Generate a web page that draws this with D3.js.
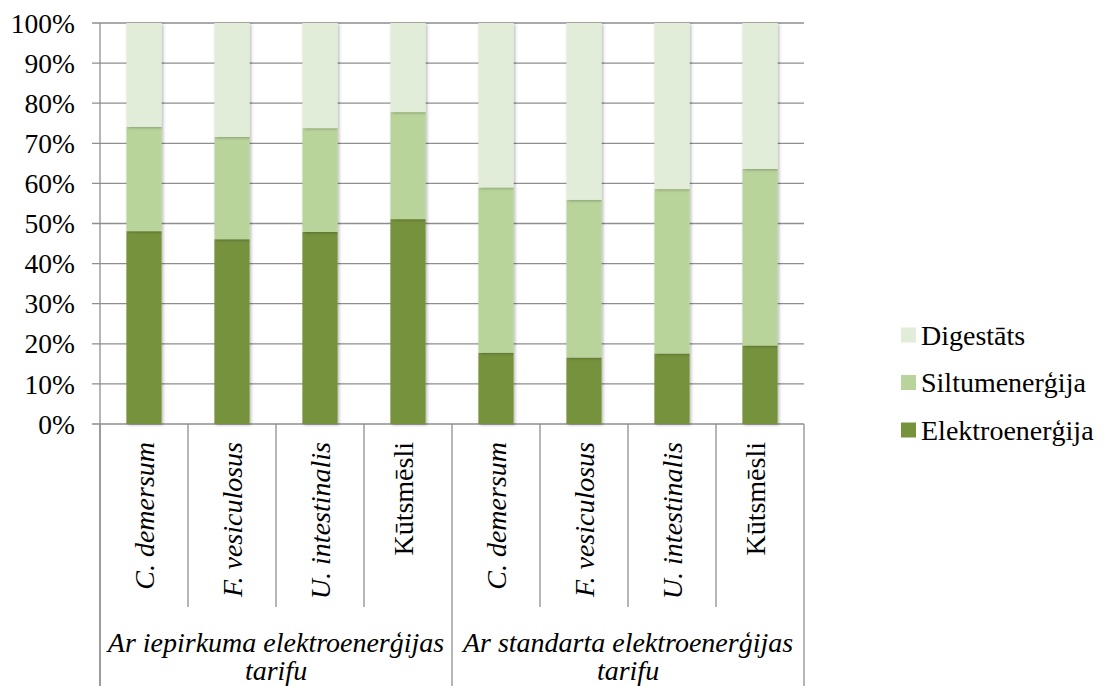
<!DOCTYPE html>
<html>
<head>
<meta charset="utf-8">
<script src="https://cdn.jsdelivr.net/npm/d3@7"></script>
<style>
  html, body { margin: 0; padding: 0; background: #ffffff; }
  svg { display: block; }
  svg text { font-family: "Liberation Serif", "DejaVu Serif", "Noto Serif", "Times New Roman", Times, FreeSerif, "Nimbus Roman", "Nimbus Roman No9 L", Tinos, serif; }
</style>
</head>
<body>
<svg id="chart" width="1104" height="686"></svg>
<script>
// Feedstock categories, with tariff groups underneath
const categories = ["C. demersum", "F. vesiculosus", "U. intestinalis", "Kūtsmēsli",
                    "C. demersum", "F. vesiculosus", "U. intestinalis", "Kūtsmēsli"];
const italicLabel = [true, true, true, false, true, true, true, false];
const groups = ["Ar iepirkuma elektroenerģijas tarifu", "Ar standarta elektroenerģijas tarifu"];
const groupLines = [["Ar iepirkuma elektroenerģijas", "tarifu"], ["Ar standarta elektroenerģijas", "tarifu"]];
const groupSize = 4;

// Share of revenue (%) per product
const seriesNames = ["Elektroenerģija", "Siltumenerģija", "Digestāts"];
const elektroenergija = [48.1, 46.1, 47.9, 51.1, 17.8, 16.6, 17.6, 19.6];
const siltumenergija  = [26.0, 25.5, 25.9, 26.7, 41.2, 39.3, 41.0, 44.0];
const digestats       = [25.9, 28.4, 26.2, 22.2, 41.0, 44.1, 41.4, 36.4];
const yTicks = [0, 10, 20, 30, 40, 50, 60, 70, 80, 90, 100];

const colors = ["#76923c", "#b8d49a", "#e1edd8"];

const svg = d3.select("#chart");
const plotLeft = 100, plotRight = 804, plotTop = 23, plotBottom = 424, chartBottom = 686;

const rows = categories.map((c, i) => ({
  i,
  "Elektroenerģija": elektroenergija[i],
  "Siltumenerģija": siltumenergija[i],
  "Digestāts": digestats[i]
}));

const x = d3.scaleBand().domain(d3.range(categories.length)).range([plotLeft, plotRight])
  .paddingInner(0.6).paddingOuter(0.3);
const xCat = d3.scaleBand().domain(d3.range(categories.length)).range([plotLeft, plotRight]).padding(0);
const y = d3.scaleLinear().domain([0, 100]).range([plotBottom, plotTop]);

// soft shadow under the bars
const defs = svg.append("defs");
const f = defs.append("filter").attr("id", "shadow").attr("x", "-20%").attr("y", "-5%")
  .attr("width", "150%").attr("height", "115%");
f.append("feDropShadow").attr("dx", 1.5).attr("dy", 1).attr("stdDeviation", 1.6)
  .attr("flood-color", "#000").attr("flood-opacity", 0.28);

const gridColor = "#8e8e8e";

// horizontal gridlines and tick marks
svg.append("g").selectAll("line").data(yTicks).join("line")
  .attr("x1", plotLeft - 8).attr("x2", plotRight)
  .attr("y1", d => y(d)).attr("y2", d => y(d))
  .attr("stroke", gridColor).attr("stroke-width", 1.3);

// y axis line
svg.append("line").attr("x1", plotLeft).attr("x2", plotLeft).attr("y1", plotTop).attr("y2", chartBottom)
  .attr("stroke", gridColor).attr("stroke-width", 1.3);

// y tick labels
svg.append("g").selectAll("text").data(yTicks).join("text")
  .attr("x", 75).attr("y", d => y(d)).attr("dy", "0.35em")
  .attr("text-anchor", "end").attr("font-size", 27.5)
  .text(d => d + "%");

// stacked bars
const stack = d3.stack().keys(seriesNames);
const layers = stack(rows);
svg.append("g").selectAll("g").data(layers).join("g")
  .attr("fill", (d, k) => colors[k])
  .selectAll("rect").data(d => d).join("rect")
  .attr("x", d => x(d.data.i))
  .attr("width", x.bandwidth())
  .attr("y", d => y(d[1]))
  .attr("height", d => y(d[0]) - y(d[1]))
  .attr("filter", "url(#shadow)");

// category separators below the axis
const sepX = d3.range(categories.length + 1).map(i => i < categories.length ? xCat(i) : plotRight);
svg.append("g").selectAll("line").data(sepX).join("line")
  .attr("x1", d => d).attr("x2", d => d)
  .attr("y1", plotBottom)
  .attr("y2", (d, i) => (i % groupSize === 0) ? chartBottom : 607)
  .attr("stroke", gridColor).attr("stroke-width", 1.3);

// rotated category labels
svg.append("g").selectAll("text").data(categories).join("text")
  .attr("transform", (d, i) => `translate(${xCat(i) + xCat.bandwidth() / 2 + (italicLabel[i] ? 0 : -5)},442) rotate(-90)`)
  .attr("text-anchor", "end").attr("dy", "0.35em")
  .attr("font-size", 28)
  .attr("font-style", (d, i) => italicLabel[i] ? "italic" : "normal")
  .text(d => d);

// group labels
const gLabels = svg.append("g").selectAll("g").data(groups).join("g")
  .attr("transform", (d, g) => {
    const x0 = xCat(g * groupSize);
    const x1 = (g + 1) * groupSize < categories.length ? xCat((g + 1) * groupSize) : plotRight;
    return `translate(${(x0 + x1) / 2},0)`;
  });
gLabels.selectAll("text").data((d, g) => groupLines[g]).join("text")
  .attr("x", 0).attr("y", (d, j) => 652 + j * 28)
  .attr("text-anchor", "middle").attr("font-size", 28).attr("font-style", "italic")
  .text(d => d);

// legend
const legendOrder = seriesNames.map((s, k) => ({ s, k })).reverse();
const lg = svg.append("g").selectAll("g").data(legendOrder).join("g")
  .attr("transform", (d, j) => `translate(901,${335 + j * 47.5})`);
lg.append("rect").attr("x", 0).attr("y", -7.5).attr("width", 15).attr("height", 15)
  .attr("fill", d => colors[d.k]);
lg.append("text").attr("x", 20).attr("y", 0).attr("dy", "0.35em")
  .attr("font-size", 28).text(d => d.s);
</script>
</body>
</html>
